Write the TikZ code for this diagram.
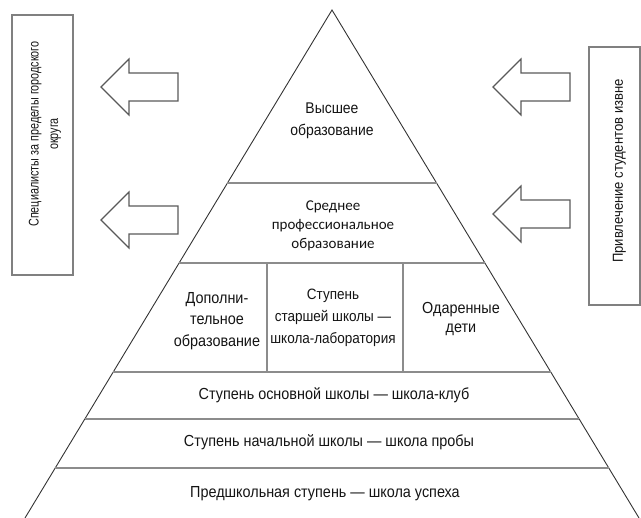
\documentclass[tikz,border=0pt]{standalone}
\usepackage{fontspec}
\setmainfont{Liberation Sans}[FakeStretch=0.9]
\newfontfamily\narrowfont{Liberation Sans}[FakeStretch=0.77]
\newfontfamily\carlito{Carlito}
\usetikzlibrary{calc,positioning}

\begin{document}
\begin{tikzpicture}[x=1pt, y=-1pt, font=\fontsize{16}{21.5}\selectfont,
edge/.style={draw=black!80, line width=0.9pt},
tier/.style={draw=black!45, line width=1.4pt},
sidebox/.style={draw=black!50, line width=1.4pt},
tiertext/.style={align=center, text=black!92, inner sep=0pt},
sidetext/.style={align=center, rotate=90, text=black!92, inner sep=0pt},
blockarrow/.pic={\draw[draw=black!65, line width=1.1pt, line join=miter] (0,0) -- (28,-28) -- (28,-14) -- (77,-14) -- (77,14) -- (28,14) -- (28,28) -- cycle;}]

\useasboundingbox (0,0) rectangle (641,518);

% Pyramid
\coordinate (apex) at (332,10);
\coordinate (bl) at (25,518);
\coordinate (br) at (639,518);
\draw[edge] (bl) -- (apex) -- (br);

% Tier lines
\foreach \y in {183,263,372,419,468} {
  \pgfmathsetmacro\t{(\y-10)/508}
  \draw[tier] ($(apex)!\t!(bl)$) -- ($(apex)!\t!(br)$);
}
\draw[tier] (267,263) -- (267,372);
\draw[tier] (403,263) -- (403,372);

% Nodes
\node[tiertext, font=\fontsize{15.5}{22}\selectfont] (higher) at (332,121) {Высшее\\образование};
\node[tiertext, font=\carlito\fontsize{15}{19}\selectfont] (college) at (333,226) {Среднее\\профессиональное\\образование};
\node[tiertext] (extra) at (217,321) {Дополни-\\тельное\\образование};
\node[tiertext, font=\fontsize{15}{22}\selectfont] (senior) at (333,318) {Ступень\\старшей школы —\\школа-лаборатория};
\node[tiertext, font=\fontsize{16}{19}\selectfont] (gifted) at (461,319) {Одаренные\\дети};
\node[tiertext] (basic) at (334,395) {Ступень основной школы — школа-клуб};
\node[tiertext] (primary) at (329,442) {Ступень начальной школы — школа пробы};
\node[tiertext] (preschool) at (325,494) {Предшкольная ступень — школа успеха};

% Side boxes
\draw[sidebox] (12,15) rectangle (73,275);
\node[sidetext, font=\narrowfont\fontsize{14}{19.5}\selectfont] (outflow) at (45,134) {Специалисты за пределы городского\\округа};
\draw[sidebox] (589,47) rectangle (640,305);
\node[sidetext, font=\fontsize{14.5}{17}\selectfont] (inflow) at (619.5,171) {Привлечение студентов извне};

% Arrows
\pic (outtop) at (101,87) {blockarrow};
\pic (outlow) at (101,220) {blockarrow};
\pic (intop) at (493,87) {blockarrow};
\pic (inlow) at (493,214) {blockarrow};
\end{tikzpicture}
\end{document}
